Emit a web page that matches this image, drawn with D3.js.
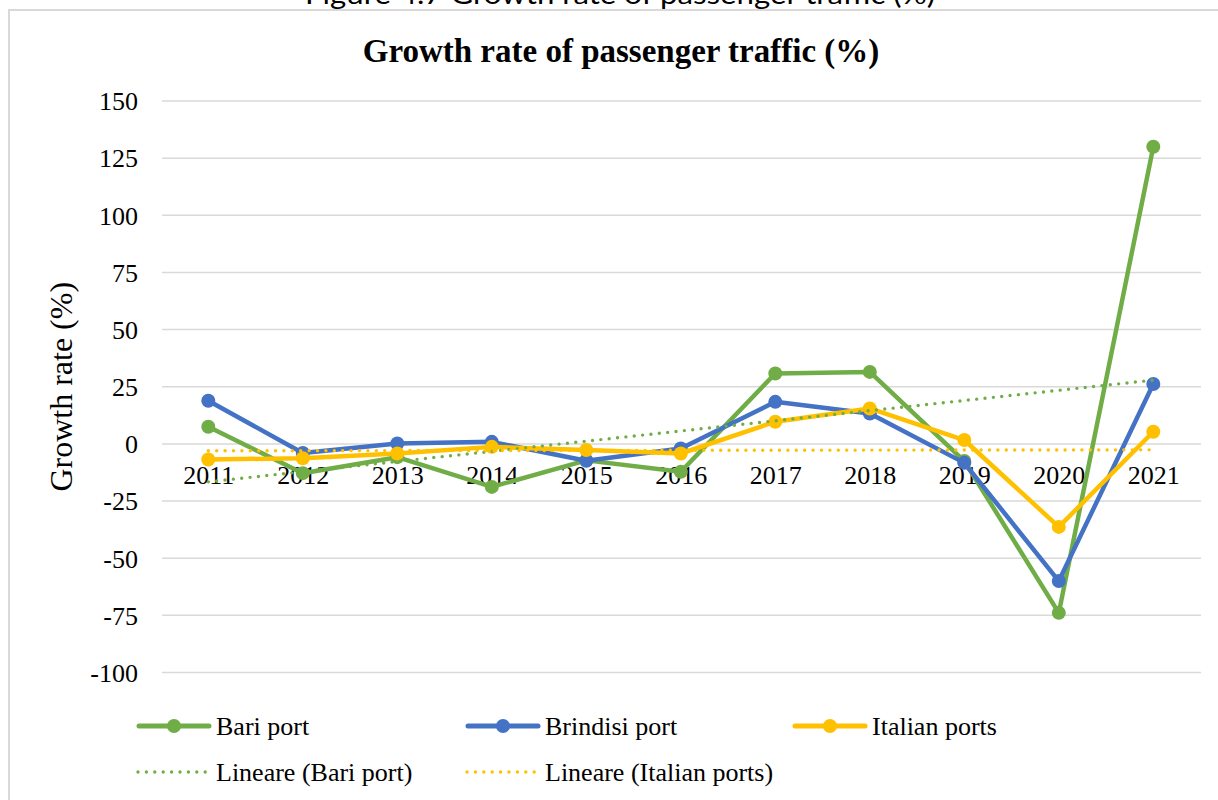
<!DOCTYPE html>
<html>
<head>
<meta charset="utf-8">
<script src="https://cdn.jsdelivr.net/npm/d3@7"></script>
<style>
  html, body { margin: 0; padding: 0; background: #ffffff; }
  svg { display: block; }
</style>
</head>
<body>
<svg id="chart" width="1218" height="800"></svg>
<script>
// ---- data ----
const years = ["2011","2012","2013","2014","2015","2016","2017","2018","2019","2020","2021"];
const bariPort = [7.5, -12.8, -5.8, -18.8, -7.2, -12.2, 30.8, 31.5, -7.5, -73.9, 130];
const brindisiPort = [18.9, -4.0, 0.2, 0.9, -7.4, -2.0, 18.4, 13.3, -8.3, -60.0, 26.2];
const italianPorts = [-6.8, -6.3, -4.2, -1.3, -2.7, -4.2, 9.7, 15.5, 1.7, -36.3, 5.3];
const trendYears = ["2011", "2021"];
const bariTrend = [-16.6, 27.9];
const italianTrend = [-3.0, -2.6];
const yTicks = [150, 125, 100, 75, 50, 25, 0, -25, -50, -75, -100];

const colors = { bari: "#70AD47", brindisi: "#4472C4", italian: "#FFC000" };
const serif = "'Liberation Serif', 'Times New Roman', serif";

const svg = d3.select("#chart");

// caption (cut off at top, as in the source page)
svg.append("text")
  .attr("x", 620).attr("y", 4)
  .attr("text-anchor", "middle")
  .attr("font-family", "Lato, 'Open Sans', sans-serif")
  .attr("font-size", 26)
  .attr("fill", "#000")
  .attr("textLength", 630)
  .attr("lengthAdjust", "spacingAndGlyphs")
  .text("Figure 4.7 Growth rate of passenger traffic (%)");

// chart area border
svg.append("rect")
  .attr("x", 9).attr("y", 10)
  .attr("width", 1400).attr("height", 1000)
  .attr("fill", "#fff")
  .attr("stroke", "#d9d9d9").attr("stroke-width", 2);

// title
svg.append("text")
  .attr("x", 621).attr("y", 62)
  .attr("text-anchor", "middle")
  .attr("font-family", serif)
  .attr("font-weight", "bold")
  .attr("font-size", 33)
  .attr("fill", "#000")
  .text("Growth rate of passenger traffic (%)");

// scales
const x = d3.scalePoint().domain(years).range([208.3, 1153.3]);
const y = d3.scaleLinear().domain([-100, 150]).range([672.5, 101]);
const plotLeft = 162, plotRight = 1201;

// gridlines
const grid = svg.append("g");
grid.selectAll("line").data(yTicks).join("line")
  .attr("x1", plotLeft).attr("x2", plotRight)
  .attr("y1", d => y(d)).attr("y2", d => y(d))
  .attr("stroke", "#d9d9d9").attr("stroke-width", 1.5);

// y axis labels
const yAxis = d3.axisLeft(y).tickValues(yTicks).tickSize(0).tickPadding(0).tickFormat(d => String(d));
const yg = svg.append("g").attr("transform", "translate(138,0)").call(yAxis);
yg.select(".domain").remove();
yg.selectAll("text")
  .attr("font-family", serif).attr("font-size", 26).attr("fill", "#000")
  .attr("dy", "0.34em");

// x axis labels (next to zero line)
const xAxis = d3.axisBottom(x).tickSize(0).tickPadding(0);
const xg = svg.append("g").attr("transform", `translate(0,${y(0)})`).call(xAxis);
xg.select(".domain").remove();
xg.selectAll("text")
  .attr("font-family", serif).attr("font-size", 26).attr("fill", "#000")
  .attr("dy", 0).attr("y", 40);

// y axis title
svg.append("text")
  .attr("transform", `translate(72,${(y(150) + y(-100)) / 2}) rotate(-90)`)
  .attr("text-anchor", "middle")
  .attr("font-family", serif).attr("font-size", 32).attr("fill", "#000")
  .text("Growth rate (%)");

// series
const series = [
  { name: "Bari port", values: bariPort, color: colors.bari },
  { name: "Brindisi port", values: brindisiPort, color: colors.brindisi },
  { name: "Italian ports", values: italianPorts, color: colors.italian }
];
const line = d3.line().x(d => x(d.year)).y(d => y(d.value));

series.forEach(s => {
  const pts = years.map((yr, i) => ({ year: yr, value: s.values[i] }));
  const g = svg.append("g");
  g.append("path").datum(pts)
    .attr("d", line)
    .attr("fill", "none").attr("stroke", s.color)
    .attr("stroke-width", 4.5).attr("stroke-linejoin", "round").attr("stroke-linecap", "round");
  g.selectAll("circle").data(pts).join("circle")
    .attr("cx", d => x(d.year)).attr("cy", d => y(d.value))
    .attr("r", 7).attr("fill", s.color);
});

// trend lines
const trends = [
  { name: "Lineare (Bari port)", values: bariTrend, color: colors.bari },
  { name: "Lineare (Italian ports)", values: italianTrend, color: colors.italian }
];
trends.forEach(t => {
  const pts = trendYears.map((yr, i) => ({ year: yr, value: t.values[i] }));
  svg.append("path").datum(pts)
    .attr("d", line)
    .attr("fill", "none").attr("stroke", t.color)
    .attr("stroke-width", 3.4).attr("stroke-linecap", "round")
    .attr("stroke-dasharray", "0 8.4");
});

// legend
const legend = svg.append("g");
const legRow1 = 726, legRow2 = 772;
const legItems = [
  { label: "Bari port", color: colors.bari, x: 137, y: legRow1, type: "solid" },
  { label: "Brindisi port", color: colors.brindisi, x: 466, y: legRow1, type: "solid" },
  { label: "Italian ports", color: colors.italian, x: 793, y: legRow1, type: "solid" },
  { label: "Lineare (Bari port)", color: colors.bari, x: 137, y: legRow2, type: "dot" },
  { label: "Lineare (Italian ports)", color: colors.italian, x: 466, y: legRow2, type: "dot" }
];
legItems.forEach(it => {
  const g = legend.append("g");
  if (it.type === "solid") {
    g.append("line")
      .attr("x1", it.x + 2).attr("x2", it.x + 72)
      .attr("y1", it.y).attr("y2", it.y)
      .attr("stroke", it.color).attr("stroke-width", 5).attr("stroke-linecap", "round");
    g.append("circle").attr("cx", it.x + 37).attr("cy", it.y).attr("r", 7).attr("fill", it.color);
  } else {
    g.append("line")
      .attr("x1", it.x + 1).attr("x2", it.x + 70)
      .attr("y1", it.y).attr("y2", it.y)
      .attr("stroke", it.color).attr("stroke-width", 3.4).attr("stroke-linecap", "round")
      .attr("stroke-dasharray", "0 8.4");
  }
  g.append("text")
    .attr("x", it.x + 79).attr("y", it.y)
    .attr("dy", "0.34em")
    .attr("font-family", serif).attr("font-size", 26).attr("fill", "#000")
    .text(it.label);
});
</script>
</body>
</html>
